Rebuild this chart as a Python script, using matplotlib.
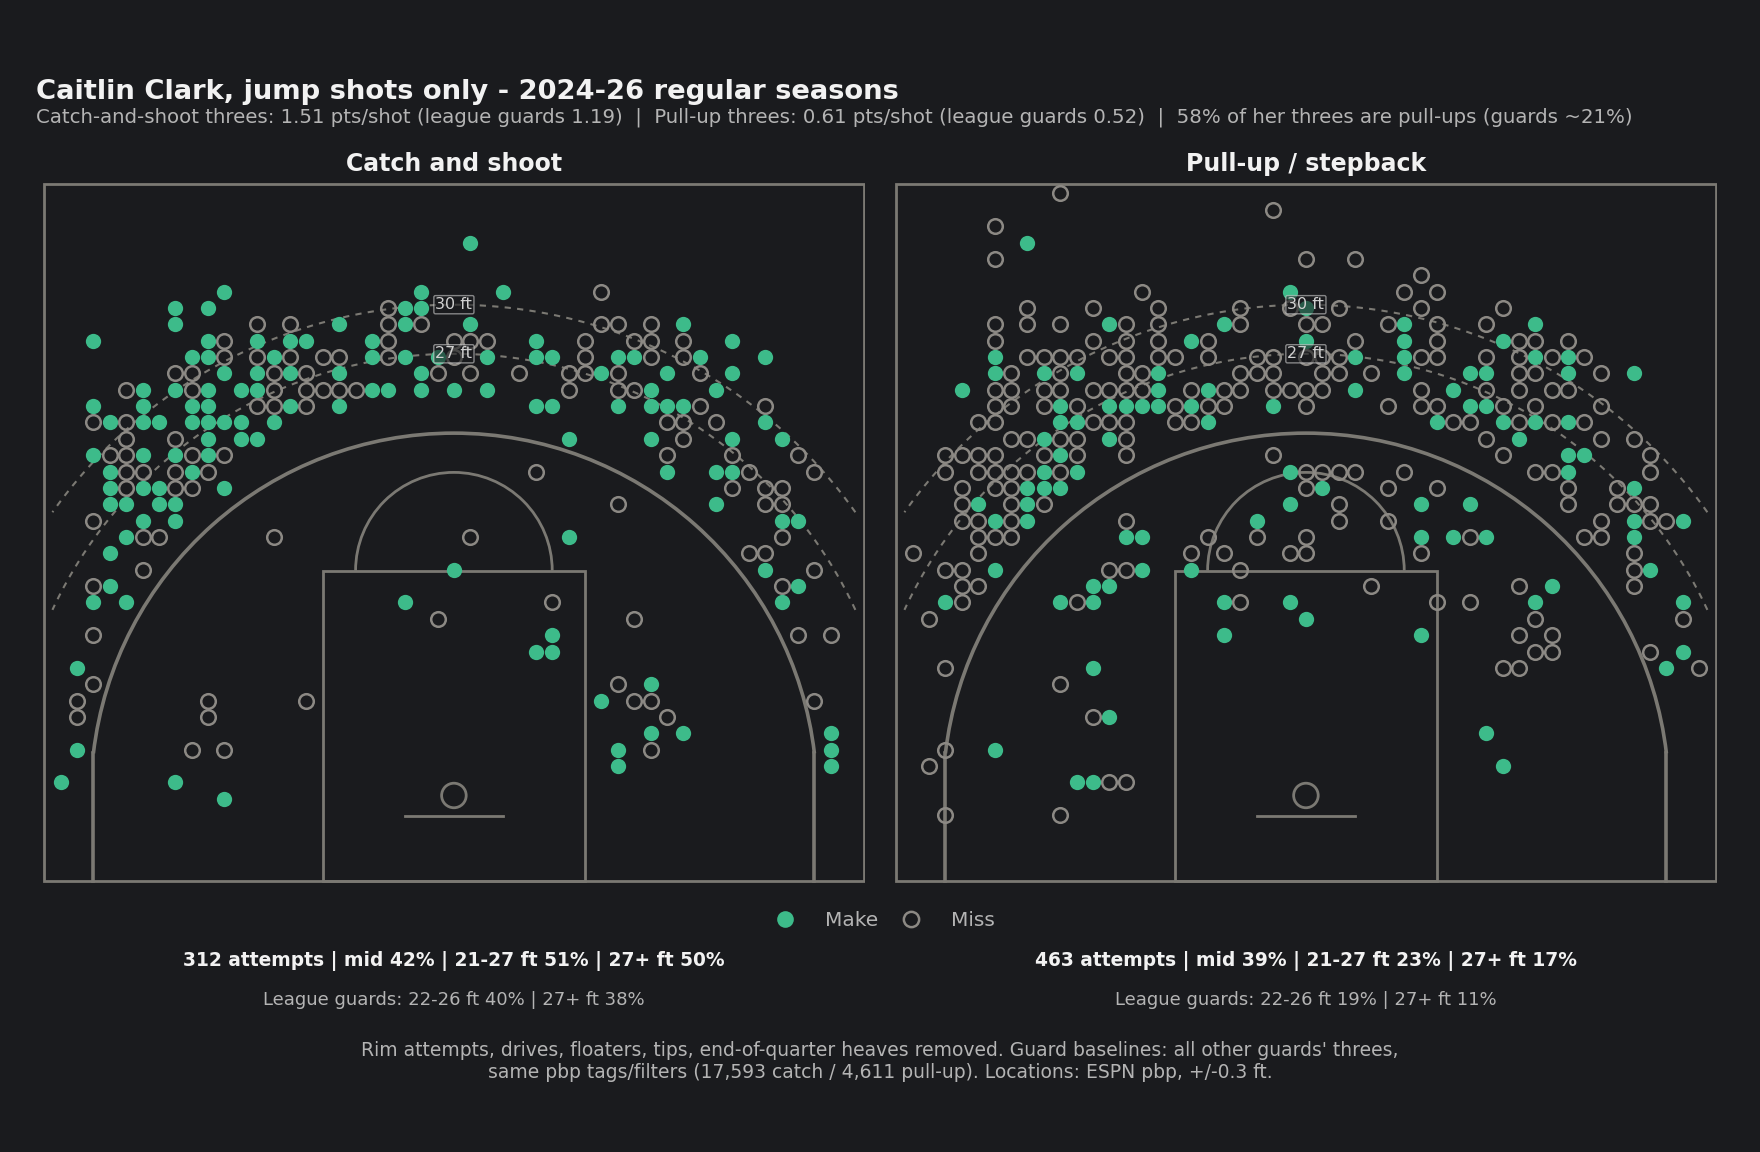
import numpy as np
import matplotlib.pyplot as plt
from matplotlib.patches import Arc, Circle, Rectangle
from matplotlib.lines import Line2D

# shot grid: row (ft above rim, offset) -> "M<col>" make / "O<col>" miss, col = ft from center
CATCH_ROWS = {
    34: "M1",
    31: "M-14 M-2 M3 O9",
    30: "M-17 M-15 O-4 M-3 M-2",
    29: "M-17 O-12 O-10 M-7 O-4 M-3 O-2 M1 O9 O10 O12 M14",
    28: "M-22 M-15 O-14 M-12 M-10 M-9 M-5 O-4 O0 O1 O2 M5 O8 O11 O12 O14 M17",
    27: "M-16 M-15 O-14 O-12 M-11 O-10 O-8 O-7 M-5 O-4 M-3 M-1 O0 M2 M5 M6 O8 M10 M11 O12 O14 M15 M19",
    26: "O-17 O-16 M-14 M-12 O-11 M-10 O-9 M-7 M-2 O-1 O1 O4 O7 O8 M9 O10 M13 O15 M17",
    25: "O-20 M-19 M-17 O-16 M-15 M-13 M-12 O-11 O-9 O-8 O-7 O-6 M-5 M-4 M-2 M0 M2 O7 O10 O11 M12 M16",
    24: "M-22 M-19 M-16 M-15 O-12 O-11 M-10 O-9 M-7 M5 M6 M10 M12 M13 M14 O15 O19",
    23: "O-22 M-21 O-20 M-19 M-18 M-16 M-15 M-14 M-13 M-11 O13 O14 O16 M19",
    22: "O-20 O-17 M-15 M-13 M-12 M7 M12 O14 M17 M20",
    21: "M-22 O-21 O-20 M-19 M-17 O-16 M-15 O-14 O13 O17 O21",
    20: "M-21 O-20 O-19 O-17 M-16 O-15 O5 M13 M16 M17 O18 O22",
    19: "M-21 O-20 M-19 M-18 O-17 O-16 M-14 O17 O19 O20",
    18: "M-21 M-20 M-18 M-17 O10 M16 O19 O20",
    17: "O-22 M-19 M-17 M20 M21",
    16: "M-20 O-19 O-18 O-11 O1 M7 O20",
    15: "M-21 O18 O19",
    14: "O-19 M0 M19 O22",
    13: "O-22 M-21 O20 M21",
    12: "M-22 M-20 M-3 O6 M20",
    11: "O-1 O11",
    10: "O-22 M6 O21 O23",
    9: "M5 M6",
    8: "M-23",
    7: "O-22 O10 M12",
    6: "O-23 O-15 O-9 M9 O11 O12 O22",
    5: "O-23 O-15 O13",
    4: "M12 M14 M23",
    3: "M-23 O-16 O-14 M10 O12 M23",
    2: "M10 M23",
    1: "M-24 M-17",
    0: "M-14",
}

PULLUP_ROWS = {
    37: "O-15",
    36: "O-2",
    35: "O-19",
    34: "M-17",
    33: "O-19 O0 O3",
    32: "O7",
    31: "O-10 M-1 O6 O8",
    30: "O-17 O-13 O-9 O-4 O-1 M0 O2 O7 O12",
    29: "O-19 O-17 O-15 M-12 O-11 O-9 M-5 O-4 O0 O1 O5 M6 O8 O11 M14",
    28: "O-19 O-13 O-11 O-9 M-7 O-6 M0 O3 M6 O8 M12 O13 O14 O16",
    27: "M-19 O-17 O-16 O-15 O-14 O-12 O-11 O-9 O-8 O-6 O-3 O-2 O0 O1 O2 M3 M6 O7 O8 O11 O13 M14 O15 M16 O17",
    26: "M-19 O-18 M-16 O-15 M-14 O-11 O-10 M-9 O-4 O-3 O-2 O1 O2 O4 M6 M10 M11 O13 O14 M16 O18 M20",
    25: "M-21 O-19 O-18 O-16 O-15 O-13 O-12 O-11 O-10 M-9 O-7 M-6 O-5 O-4 O-2 O-1 O0 O1 M3 O7 M9 O11 O13 O15 O16",
    24: "O-19 O-18 O-16 M-15 O-14 M-12 M-11 M-10 M-9 O-8 M-7 O-6 O-5 M-2 O0 O5 O7 O8 M10 M11 O12 O14 O18",
    23: "O-20 O-19 M-15 M-14 O-13 O-12 O-11 O-8 O-7 M-6 M8 O9 O10 M12 O13 M14 O15 M16 O17",
    22: "O-18 O-17 M-16 O-15 O-14 M-12 O-11 O11 M13 O18 O20",
    21: "O-22 O-21 O-20 O-19 O-16 M-15 O-14 O-11 O-2 O12 M16 M17 O21",
    20: "O-22 O-20 O-19 O-18 O-17 M-16 O-15 M-14 M-1 O0 O1 O2 O3 O6 O14 O15 M16 O21",
    19: "O-21 O-19 O-18 M-17 M-16 M-15 O0 M1 O5 O8 O16 O19 M20",
    18: "O-21 M-20 O-18 M-17 O-16 M-1 O2 M7 M10 O16 O19 O20 O21",
    17: "O-21 O-20 M-19 O-18 M-17 O-11 M-3 O2 O5 O18 M20 O21 O22 M23",
    16: "O-20 O-19 O-18 M-11 M-10 O-6 O-3 O0 M7 M9 O10 M11 O17 O18 M20",
    15: "O-24 O-20 O-7 O-5 O-1 O0 O7 O20",
    14: "O-22 O-21 M-19 O-12 O-11 M-10 M-7 O-4 O20 M21",
    13: "O-21 O-20 M-13 M-12 O4 O13 M15 O20",
    12: "M-22 O-21 M-15 O-14 M-13 M-5 O-4 M-1 O8 O10 M14 M23",
    11: "O-23 M0 O14 O23",
    10: "M-5 M7 O13 O15",
    9: "O14 O15 O21 M23",
    8: "O-22 M-13 O12 O13 M22 O24",
    7: "O-15",
    5: "O-13 M-12",
    4: "M11",
    3: "O-22 M-19",
    2: "O-23 M12",
    1: "M-14 M-13 O-12 O-11",
    -1: "O-22 O-15",
}

panel_titles = ["Catch and shoot", "Pull-up / stepback"]
stat_lines = ["312 attempts | mid 42% | 21-27 ft 51% | 27+ ft 50%",
              "463 attempts | mid 39% | 21-27 ft 23% | 27+ ft 17%"]
league_lines = ["League guards: 22-26 ft 40% | 27+ ft 38%",
                "League guards: 22-26 ft 19% | 27+ ft 11%"]

BG = "#1a1b1e"
LINE = "#7b7973"
GREEN = "#3dbb8a"
MISS = "#8c8984"
TXT = "#f2f2f2"
SUB = "#b4b4b4"

plt.rcParams['font.family'] = ['DejaVu Sans']


def parse(rows):
    mx, my, ox, oy = [], [], [], []
    for k, s in rows.items():
        for tok in s.split():
            c = int(tok[1:])
            y = k - 0.2
            if tok[0] == "M":
                mx.append(c); my.append(y)
            else:
                ox.append(c); oy.append(y)
    return mx, my, ox, oy


def draw_court(ax):
    lw = 2.0
    ax.add_patch(Rectangle((-25, -5.25), 50, 42.65, fill=False, ec=LINE, lw=lw, zorder=1))
    ax.add_patch(Rectangle((-8, -5.25), 16, 19, fill=False, ec=LINE, lw=lw, zorder=1))
    ax.add_patch(Arc((0, 13.75), 12, 12, theta1=0, theta2=180, ec=LINE, lw=lw, zorder=1))
    ax.add_patch(Circle((0, 0), 0.75, fill=False, ec=LINE, lw=lw, zorder=1))
    ax.plot([-3, 3], [-1.25, -1.25], color=LINE, lw=lw, zorder=1)
    r = 22.15
    yc = np.sqrt(r**2 - 22**2)
    ang = np.degrees(np.arctan2(yc, 22))
    ax.add_patch(Arc((0, 0), 2 * r, 2 * r, theta1=ang, theta2=180 - ang, ec=LINE, lw=2.6, zorder=1))
    ax.plot([-22, -22], [-5.25, yc], color=LINE, lw=2.6, zorder=1)
    ax.plot([22, 22], [-5.25, yc], color=LINE, lw=2.6, zorder=1)
    for rad in (27, 30):
        a0 = np.degrees(np.arccos(24.5 / rad))
        t = np.radians(np.linspace(a0, 180 - a0, 200))
        ax.plot(rad * np.cos(t), rad * np.sin(t), color=LINE, lw=1.5, ls=(0, (3, 3)), zorder=1)
        ax.text(0, rad, f"{rad} ft", ha="center", va="center", fontsize=11.5, color="#d0d0d0", zorder=4,
                bbox=dict(boxstyle="round,pad=0.1", fc=BG, ec="#cfcfcf", lw=1.0, alpha=0.6))


fig = plt.figure(figsize=(17.6, 11.52), dpi=100, facecolor=BG)
boxes = [[0.0242, 0.2335, 0.4674, 0.6085], [0.5083, 0.2335, 0.4674, 0.6085]]
for i, rows in enumerate([CATCH_ROWS, PULLUP_ROWS]):
    ax = fig.add_axes(boxes[i])
    ax.set_facecolor(BG)
    draw_court(ax)
    mx, my, ox, oy = parse(rows)
    ax.plot(ox, oy, 'o', ms=10.5, mfc='none', mec=MISS, mew=1.8, ls='none', zorder=3)
    ax.plot(mx, my, 'o', ms=11, mfc=GREEN, mec='none', ls='none', zorder=3)
    ax.set_xlim(-25.1, 25.1)
    ax.set_ylim(-5.35, 37.5)
    ax.axis('off')
    ax.set_title(panel_titles[i], color=TXT, fontsize=17, fontweight='bold', pad=8)
    cx = boxes[i][0] + boxes[i][2] / 2
    fig.text(cx, 1 - 961 / 1152, stat_lines[i], ha='center', va='center', color=TXT, fontsize=13.4, fontweight='bold')
    fig.text(cx, 1 - 1000 / 1152, league_lines[i], ha='center', va='center', color=SUB, fontsize=13)

fig.text(0.0205, 1 - 92 / 1152, "Caitlin Clark, jump shots only - 2024-26 regular seasons",
         color=TXT, fontsize=19.7, fontweight='bold', va='center')
fig.text(0.0205, 1 - 117 / 1152,
         "Catch-and-shoot threes: 1.51 pts/shot (league guards 1.19)  |  Pull-up threes: 0.61 pts/shot "
         "(league guards 0.52)  |  58% of her threes are pull-ups (guards ~21%)",
         color=SUB, fontsize=14.2, va='center')

handles = [Line2D([], [], marker='o', ls='none', ms=12, mfc=GREEN, mec='none', label='Make'),
           Line2D([], [], marker='o', ls='none', ms=11, mfc='none', mec=MISS, mew=1.8, label='Miss')]
fig.legend(handles=handles, loc='center', bbox_to_anchor=(0.5, 1 - 921 / 1152), ncol=2, frameon=False,
           labelcolor=SUB, fontsize=14.5, handletextpad=1.0, columnspacing=0.6)

fig.text(0.5, 1 - 1051 / 1152,
         "Rim attempts, drives, floaters, tips, end-of-quarter heaves removed. Guard baselines: all other guards' threes,",
         ha='center', va='center', color=SUB, fontsize=13.5)
fig.text(0.5, 1 - 1072 / 1152,
         "same pbp tags/filters (17,593 catch / 4,611 pull-up). Locations: ESPN pbp, +/-0.3 ft.",
         ha='center', va='center', color=SUB, fontsize=13.5)

fig.savefig("out.png", dpi=100, facecolor=BG)
